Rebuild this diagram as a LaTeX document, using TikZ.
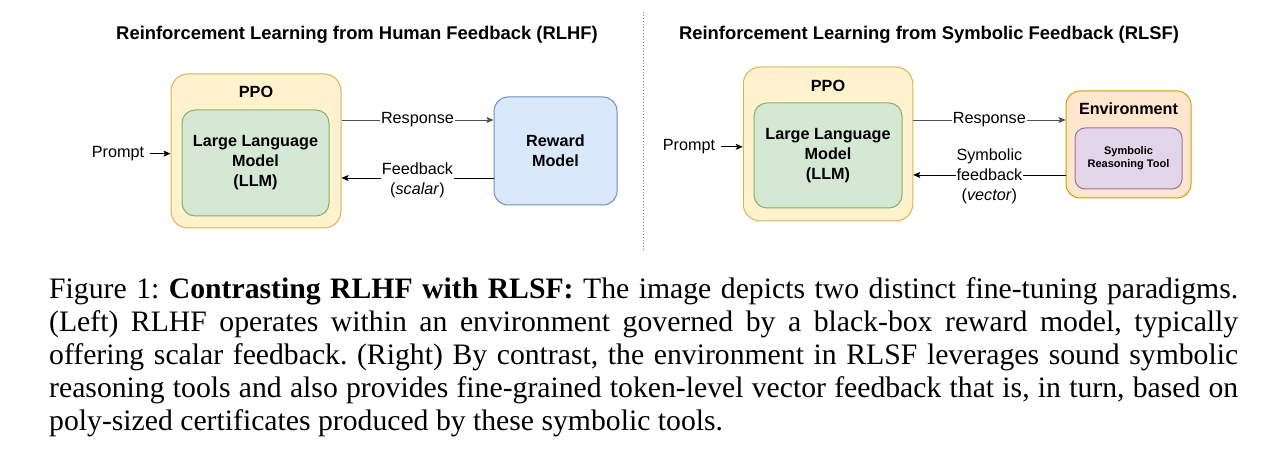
\documentclass[tikz,border=0pt]{standalone}
\usepackage{fontspec}
\setmainfont{Liberation Serif}
\newfontfamily\arialf{Liberation Sans}
\usetikzlibrary{arrows.meta}
\definecolor{ppofill}{HTML}{FFF2CC}\definecolor{ppodraw}{HTML}{D6B656}
\definecolor{llmfill}{HTML}{D5E8D4}\definecolor{llmdraw}{HTML}{82B366}
\definecolor{rmfill}{HTML}{DAE8FC}\definecolor{rmdraw}{HTML}{6C8EBF}
\definecolor{envfill}{HTML}{FFE6CC}\definecolor{envdraw}{HTML}{D79B00}
\definecolor{toolfill}{HTML}{E1D5E7}\definecolor{tooldraw}{HTML}{9673A6}
\definecolor{respline}{HTML}{505050}
\frenchspacing
\begin{document}
\begin{tikzpicture}[x=1pt,y=-1pt,
  every node/.style={inner sep=0pt, align=center, font=\arialf\fontsize{16.2}{20}\selectfont},
  titlestyle/.style={font=\arialf\bfseries\fontsize{18.4}{22}\selectfont, anchor=base},
  boldlbl/.style={font=\arialf\bfseries\fontsize{16.2}{20}\selectfont},
  ppobox/.style={draw=ppodraw, fill=ppofill, line width=1pt, rounded corners=17pt},
  llmbox/.style={draw=llmdraw, fill=llmfill, line width=1pt, rounded corners=13pt, boldlbl},
  rmbox/.style={draw=rmdraw, fill=rmfill, line width=1pt, rounded corners=14pt, boldlbl},
  envbox/.style={draw=envdraw, fill=envfill, line width=1pt, rounded corners=14pt},
  toolbox/.style={draw=tooldraw, fill=toolfill, line width=1pt, rounded corners=10pt,
    font=\arialf\bfseries\fontsize{11}{13}\selectfont},
  arr/.style={-{Stealth[length=7pt,width=6pt,inset=1.5pt]}, line width=0.9pt},
  lbl/.style={fill=white, inner xsep=1pt, inner ysep=0.5pt},
  captline/.style={anchor=base west, font=\fontsize{29.7}{33}\selectfont}
]
\useasboundingbox[fill=white] (0,0) rectangle (1270,454);

% ---------- Left: RLHF ----------
\node[titlestyle] (titleL) at (357,40) {Reinforcement Learning from Human Feedback (RLHF)};
\node[ppobox, minimum width=170pt, minimum height=154pt] (ppoL) at (256,151) {};
\node[boldlbl, anchor=base] (ppolblL) at (256,97.5) {PPO};
\node[llmbox, minimum width=147pt, minimum height=106pt] (llmL) at (255.5,163) {Large Language\\Model\\(LLM)};
\node[rmbox, minimum width=123pt, minimum height=108pt] (rmL) at (555.5,151) {Reward\\Model};
\node[anchor=base] (promptL) at (118,157.5) {Prompt};
\coordinate (yrespL) at (0,120);
\coordinate (yfbL) at (0,178);
\draw[arr] ([xshift=6pt]promptL.east) -- (promptL.east -| ppoL.west);
\draw[arr, draw=respline] (ppoL.east |- yrespL) -- node[lbl] (respL) {Response} (rmL.west |- yrespL);
\draw[arr] (rmL.west |- yfbL) -- node[lbl, yshift=-2pt] (fbL) {Feedback\\(\textit{scalar})} (ppoL.east |- yfbL);

% ---------- separator ----------
\draw[gray, line width=0.8pt, dash pattern=on 1.2pt off 1.8pt] (643,12) -- (643,250);

% ---------- Right: RLSF ----------
\node[titlestyle] (titleR) at (929,40) {Reinforcement Learning from Symbolic Feedback (RLSF)};
\node[ppobox, minimum width=169.5pt, minimum height=154pt] (ppoR) at (828,144) {};
\node[boldlbl, anchor=base] (ppolblR) at (828,92) {PPO};
\node[llmbox, minimum width=148pt, minimum height=105pt] (llmR) at (828,155.5) {Large Language\\Model\\(LLM)};
\node[envbox, minimum width=125pt, minimum height=107pt] (envR) at (1128.5,144.5) {};
\node[boldlbl, anchor=base] (envlbl) at (1128.5,114.7) {Environment};
\node[toolbox, minimum width=107pt, minimum height=61pt] (toolR) at (1128.5,158.5) {Symbolic\\Reasoning Tool};
\node[anchor=base] (promptR) at (689,150.7) {Prompt};
\coordinate (yrespR) at (0,120);
\coordinate (yfbR) at (0,175);
\draw[arr] ([xshift=6pt]promptR.east) -- (promptR.east -| ppoR.west);
\draw[arr, draw=respline] (ppoR.east |- yrespR) -- node[lbl] (respR) {Response} (envR.west |- yrespR);
\draw[arr] (envR.west |- yfbR) -- node[lbl, yshift=-1.5pt] (fbR) {Symbolic\\feedback\\(\textit{vector})} (ppoR.east |- yfbR);

% ---------- caption ----------
\node[captline] (cap1) at (49,299) {\makebox[1189pt][s]{Figure 1: \textbf{Contrasting RLHF with RLSF:} The image depicts two distinct fine-tuning paradigms.}};
\node[captline] (cap2) at (49,332) {\makebox[1189pt][s]{(Left) RLHF operates within an environment governed by a black-box reward model, typically}};
\node[captline] (cap3) at (49,365) {\makebox[1189pt][s]{offering scalar feedback. (Right) By contrast, the environment in RLSF leverages sound symbolic}};
\node[captline] (cap4) at (49,398) {\makebox[1189pt][s]{reasoning tools and also provides fine-grained token-level vector feedback that is, in turn, based on}};
\node[captline] (cap5) at (49,431) {poly-sized certificates produced by these symbolic tools.};
\end{tikzpicture}
\end{document}
